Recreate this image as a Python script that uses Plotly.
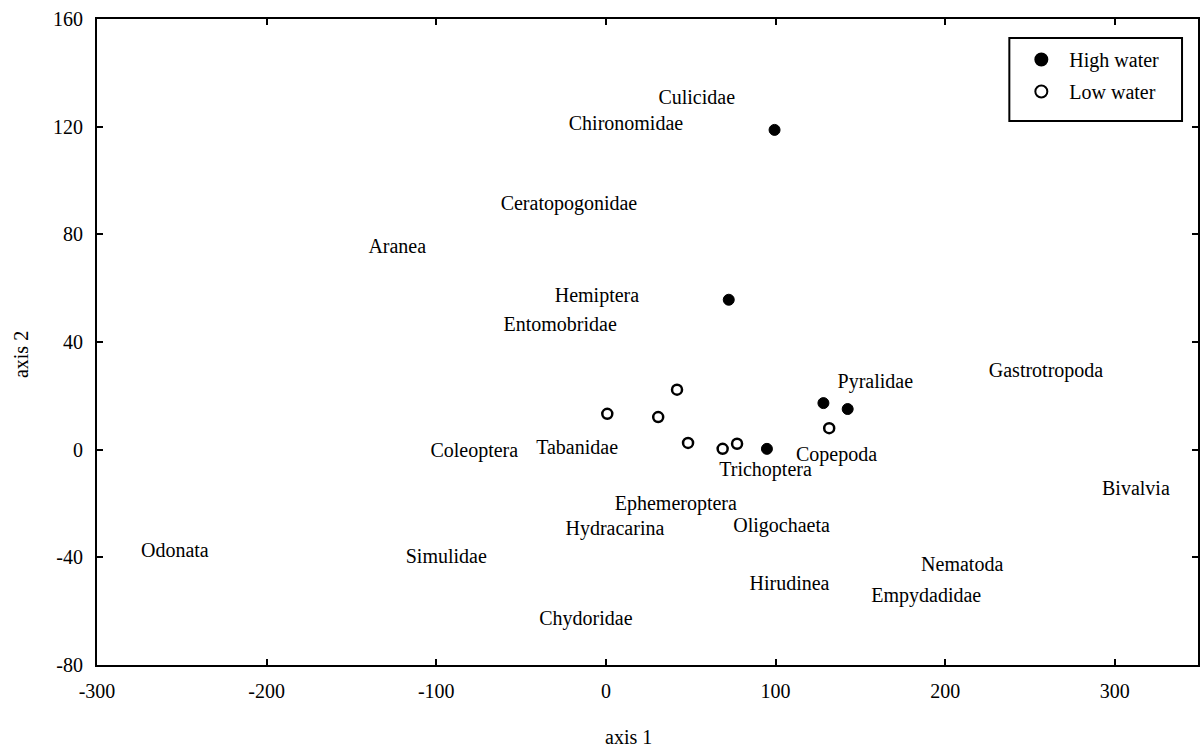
import plotly.graph_objects as go

# Sample scores on the first two ordination axes
high_x = [99.4, 72.4, 94.9, 128.2, 142.5]
high_y = [118.8, 55.7, 0.3, 17.3, 15.1]
low_x = [0.8, 30.8, 41.9, 48.4, 68.8, 77.3, 131.6]
low_y = [13.3, 12.1, 22.3, 2.5, 0.3, 2.2, 8.0]

# Taxon scores, drawn as text labels
taxa = ["Culicidae", "Chironomidae", "Ceratopogonidae", "Aranea", "Hemiptera",
        "Entomobridae", "Pyralidae", "Gastrotropoda", "Coleoptera", "Tabanidae",
        "Copepoda", "Trichoptera", "Bivalvia", "Ephemeroptera", "Hydracarina",
        "Oligochaeta", "Odonata", "Simulidae", "Nematoda", "Hirudinea",
        "Empydadidae", "Chydoridae"]
taxa_x = [53.5, 11.8, -21.8, -123, -5.3, -27, 158.8, 259.4, -77.6, -17,
          135.9, 94.1, 312.4, 41.2, 5.3, 103.5, -254.1, -94.1, 210, 108.2,
          188.8, -11.8]
taxa_y = [130.3, 120.6, 90.9, 75, 56.8, 46, 24.9, 29, -0.7, 0.4,
          -2.2, -7.8, -14.8, -20.4, -29.7, -28.6, -37.9, -40.1, -43.1, -50.1,
          -54.6, -63.1]

x_ticks = [-300, -200, -100, 0, 100, 200, 300]
y_ticks = [-80, -40, 0, 40, 80, 120, 160]

FONT = "Liberation Serif, Times New Roman, serif"
FS = 20

# plot area in pixels, used to place the legend frame in paper units
L, R, T, B = 97, 1200, 19, 665


def px_x(p):
    return (p - L) / (R - L)


def px_y(p):
    return (B - p) / (B - T)


fig = go.Figure()
fig.add_trace(go.Scatter(
    x=taxa_x, y=taxa_y, mode="text", text=taxa, textposition="middle center",
    textfont=dict(family=FONT, size=FS, color="black"), showlegend=False,
    hoverinfo="skip"))
fig.add_trace(go.Scatter(
    x=high_x, y=high_y, mode="markers", name="High water", legendgroup="a",
    marker=dict(symbol="circle", size=11, color="black",
                line=dict(color="black", width=1))))
fig.add_trace(go.Scatter(
    x=low_x, y=low_y, mode="markers", name="Low water", legendgroup="b",
    marker=dict(symbol="circle", size=10, color="white",
                line=dict(color="black", width=2.5))))

axis_common = dict(
    showgrid=False, zeroline=False, showline=True, linecolor="black",
    linewidth=2, mirror="ticks", ticks="inside", ticklen=6, tickwidth=2,
    tickcolor="black", tickfont=dict(family=FONT, size=FS, color="black"),
)

fig.update_layout(
    width=1203, height=747,
    margin=dict(l=L, r=1203 - R, t=T, b=747 - B),
    paper_bgcolor="white", plot_bgcolor="white",
    font=dict(family=FONT, size=FS, color="black"),
    xaxis=dict(range=[-300, 349], tickvals=x_ticks,
               ticktext=[str(v) for v in x_ticks], ticklabelstandoff=7,
               **axis_common),
    yaxis=dict(range=[-80, 160], tickvals=y_ticks,
               ticktext=[str(v) for v in y_ticks], ticklabelstandoff=8,
               **axis_common),
    legend=dict(x=px_x(1015), y=px_y(40), xref="paper", yref="paper",
                xanchor="left", yanchor="top",
                bgcolor="rgba(0,0,0,0)", borderwidth=0,
                font=dict(family=FONT, size=FS), itemsizing="constant",
                itemwidth=46, traceorder="grouped", tracegroupgap=3),
    shapes=[dict(type="rect", xref="paper", yref="paper",
                 x0=px_x(1011), x1=px_x(1184), y0=px_y(121), y1=px_y(38),
                 line=dict(color="black", width=2), fillcolor="white",
                 layer="above")],
    annotations=[
        dict(text="axis 1", xref="paper", yref="paper", x=0.4823, y=-0.1115,
             xanchor="center", yanchor="middle", showarrow=False,
             font=dict(family=FONT, size=FS)),
        dict(text="axis 2", xref="paper", yref="paper", x=-0.0689, y=0.48,
             xanchor="center", yanchor="middle", showarrow=False, textangle=-90,
             font=dict(family=FONT, size=FS)),
    ],
)

fig.write_html("out.html")
